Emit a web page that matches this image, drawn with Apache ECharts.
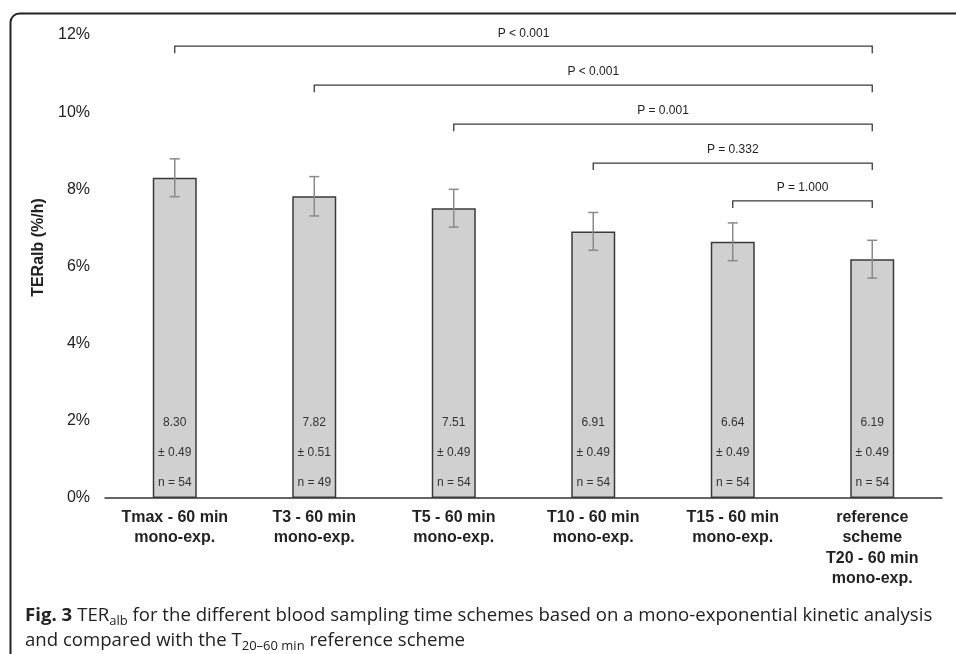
<!DOCTYPE html>
<html><head><meta charset="utf-8">
<script src="https://cdn.jsdelivr.net/npm/echarts@6/dist/echarts.min.js"></script>
<style>html,body{margin:0;padding:0;background:#fff}#c{width:956px;height:654px}</style>
</head><body><div id="c"></div>
<script>
const categories = ['Tmax - 60 min\nmono-exp.', 'T3 - 60 min\nmono-exp.', 'T5 - 60 min\nmono-exp.', 'T10 - 60 min\nmono-exp.', 'T15 - 60 min\nmono-exp.', 'reference\nscheme\nT20 - 60 min\nmono-exp.'];
const means = [8.30, 7.82, 7.51, 6.91, 6.64, 6.19];
const sds = [0.49, 0.51, 0.49, 0.49, 0.49, 0.49];
const ns = [54, 49, 54, 54, 54, 54];
const yTicks = [0, 2, 4, 6, 8, 10, 12];
const bracketFrom = [0, 1, 2, 3, 4];
const bracketTo = [5, 5, 5, 5, 5];
const bracketLevel = [11.71, 10.70, 9.69, 8.68, 7.70];
const bracketText = ['P < 0.001', 'P < 0.001', 'P = 0.001', 'P = 0.332', 'P = 1.000'];

const FONT = '"Liberation Sans", Arial, sans-serif';
const CAP = '"Open Sans"';
const chart = echarts.init(document.getElementById('c'), null, {renderer: 'canvas'});

const barData = means.map((m, i) => ({
  value: m,
  label: {
    formatter: '{t|' + m.toFixed(2) + '}\n{t|± ' + sds[i].toFixed(2) + '}\n{t|n = ' + ns[i] + '}'
  }
}));

chart.setOption({
  animation: false,
  textStyle: {fontFamily: FONT},
  title: {
    left: 25, top: 603, padding: 0,
    text: '{b|Fig. 3} {r|TER}{s|alb}{r| for the different blood sampling time schemes based on a mono-exponential kinetic analysis}\n{r|and compared with the T}{s|20–60 min}{r| reference scheme}',
    textStyle: {
      fontWeight: 'normal',
      rich: {
        b: {fontFamily: CAP, fontWeight: 'bold', fontSize: 18.6, lineHeight: 25, color: '#222'},
        r: {fontFamily: CAP, fontWeight: 'normal', fontSize: 18.6, lineHeight: 25, color: '#222'},
        s: {fontFamily: CAP, fontWeight: 'normal', fontSize: 13, lineHeight: 13, verticalAlign: 'bottom', color: '#222'}
      }
    }
  },
  graphic: [{
    type: 'rect', left: 8, top: 11, z: 100, silent: true,
    shape: {width: 1000, height: 700, r: [9, 0, 0, 0]},
    style: {fill: 'none', stroke: '#222', lineWidth: 2}
  }],
  grid: {left: 105, right: 14, top: 35, bottom: 156, containLabel: false},
  xAxis: {
    type: 'category', data: categories,
    axisLine: {lineStyle: {color: '#333', width: 1.5}},
    axisTick: {show: false},
    axisLabel: {interval: 0, margin: 9, fontSize: 16, fontWeight: 'bold', color: '#222', lineHeight: 20.5, fontFamily: FONT}
  },
  yAxis: {
    type: 'value', min: yTicks[0], max: yTicks[yTicks.length - 1], interval: 2,
    name: 'TERalb (%/h)', nameLocation: 'middle', nameGap: 55,
    nameTextStyle: {fontSize: 16, fontWeight: 'bold', color: '#222', fontFamily: FONT, padding: [0, 0, 0, 38]},
    axisLine: {show: false}, axisTick: {show: false}, splitLine: {show: false},
    axisLabel: {formatter: '{value}%', fontSize: 16, color: '#222', margin: 15, fontFamily: FONT}
  },
  series: [
    {
      type: 'bar', data: barData, barWidth: 44,
      itemStyle: {color: '#d0d0d0', borderColor: '#3a3a3a', borderWidth: 1.5},
      label: {
        show: true, position: 'insideBottom', distance: 0,
        rich: {t: {fontSize: 12, lineHeight: 30, color: '#333', fontFamily: FONT}}
      }
    },
    {
      type: 'custom', z: 5,
      data: means.map((m, i) => [i, m, sds[i]]),
      renderItem: function (params, api) {
        const i = api.value(0), m = api.value(1), e = api.value(2);
        const top = api.coord([i, m + e]);
        const bot = api.coord([i, m - e]);
        const st = {stroke: '#8a8a8a', lineWidth: 1.5};
        return {type: 'group', children: [
          {type: 'line', shape: {x1: top[0], y1: top[1], x2: bot[0], y2: bot[1]}, style: st},
          {type: 'line', shape: {x1: top[0] - 5, y1: top[1], x2: top[0] + 5, y2: top[1]}, style: st},
          {type: 'line', shape: {x1: bot[0] - 5, y1: bot[1], x2: bot[0] + 5, y2: bot[1]}, style: st}
        ]};
      }
    },
    {
      type: 'custom', z: 5,
      data: bracketFrom.map((f, k) => [f, bracketTo[k], bracketLevel[k], k]),
      renderItem: function (params, api) {
        const a = api.coord([api.value(0), api.value(2)]);
        const b = api.coord([api.value(1), api.value(2)]);
        const k = api.value(3);
        const st = {stroke: '#3a3a3a', lineWidth: 1.3, fill: 'none'};
        return {type: 'group', children: [
          {type: 'polyline', shape: {points: [[a[0], a[1] + 7], [a[0], a[1]], [b[0], b[1]], [b[0], b[1] + 7]]}, style: st},
          {type: 'text', style: {text: bracketText[k], x: (a[0] + b[0]) / 2, y: a[1] - 13, align: 'center', verticalAlign: 'middle', fontSize: 12, fill: '#222', fontFamily: FONT}}
        ]};
      }
    }
  ]
});
</script></body></html>
